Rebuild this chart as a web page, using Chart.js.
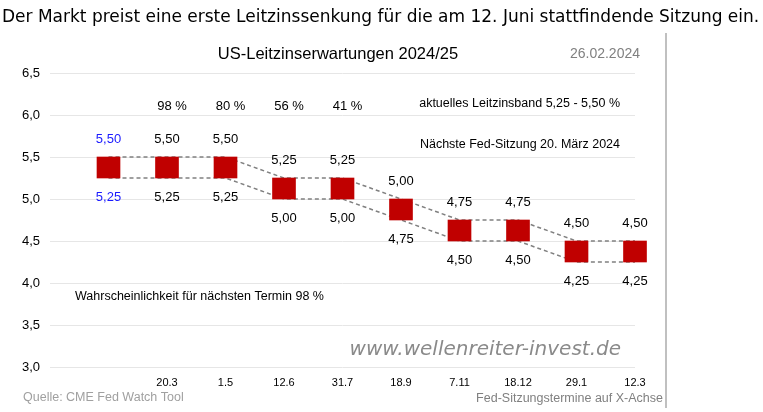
<!DOCTYPE html>
<html>
<head>
<meta charset="utf-8">
<script src="https://cdn.jsdelivr.net/npm/chart.js@4"></script>
<style>
  html, body { margin: 0; padding: 0; background: #fff; }
</style>
</head>
<body>
<canvas id="chart" width="763" height="412"></canvas>
<script>
// Fed-Termine (erste Spalte = heute, leere Spalte links = Achsenanfang)
const categories = ['', '', '20.3', '1.5', '12.6', '31.7', '18.9', '7.11', '18.12', '29.1', '12.3'];
const upper = [null, 5.50, 5.50, 5.50, 5.25, 5.25, 5.00, 4.75, 4.75, 4.50, 4.50];
const lower = [null, 5.25, 5.25, 5.25, 5.00, 5.00, 4.75, 4.50, 4.50, 4.25, 4.25];
const probs = [null, null, 98, 80, 56, 41, null, null, null, null, null];
const probLevel = 6.1;
const yTicks = [3.0, 3.5, 4.0, 4.5, 5.0, 5.5, 6.0, 6.5];

const fmt = v => v.toFixed(2).replace('.', ',');
const FONT = '"Liberation Sans", Arial, sans-serif';

const ranges = upper.map((u, i) => (u === null ? null : [lower[i], u]));

const textPlugin = {
    id: 'texts',
    afterDraw(chart) {
        const ctx = chart.ctx;
        const y = chart.scales.y;
        const bars = chart.getDatasetMeta(0).data;
        ctx.save();

        // Schlagzeile
        ctx.fillStyle = '#000';
        ctx.font = '17px "DejaVu Sans", Verdana, sans-serif';
        ctx.textAlign = 'left';
        ctx.textBaseline = 'middle';
        ctx.fillText('Der Markt preist eine erste Leitzinssenkung für die am 12. Juni stattfindende Sitzung ein.', 2, 18, 758);

        // Rahmenlinie rechts
        ctx.fillStyle = '#c0c0c0';
        ctx.fillRect(665, 33, 2, 375);

        // Titel + Datum
        ctx.fillStyle = '#000';
        ctx.font = '16.5px ' + FONT;
        ctx.textAlign = 'center';
        ctx.fillText('US-Leitzinserwartungen 2024/25', 338, 54);
        ctx.fillStyle = '#808080';
        ctx.font = '14px ' + FONT;
        ctx.textAlign = 'right';
        ctx.fillText('26.02.2024', 640, 54);

        // Werte an den Balken
        ctx.font = '13px ' + FONT;
        ctx.textAlign = 'center';
        bars.forEach((el, i) => {
            if (upper[i] === null) return;
            ctx.fillStyle = i === 1 ? '#1a1aff' : '#000';
            ctx.fillText(fmt(upper[i]), el.x, y.getPixelForValue(upper[i]) - 18);
            ctx.fillText(fmt(lower[i]), el.x, y.getPixelForValue(lower[i]) + 19);
        });

        // Wahrscheinlichkeiten
        ctx.fillStyle = '#000';
        probs.forEach((p, i) => {
            if (p === null) return;
            ctx.fillText(p + ' %', chart.scales.x.getPixelForValue(i) + 5, y.getPixelForValue(probLevel));
        });

        // Hinweise
        ctx.font = '12.5px ' + FONT;
        ctx.textAlign = 'right';
        ctx.fillText('aktuelles Leitzinsband 5,25 - 5,50 %', 620, 104);
        ctx.fillText('Nächste Fed-Sitzung 20. März 2024', 620, 145);
        ctx.textAlign = 'left';
        ctx.fillText('Wahrscheinlichkeit für nächsten Termin 98 %', 75, 297);

        // Wasserzeichen
        ctx.fillStyle = '#8a8a8a';
        ctx.font = 'italic 20px "DejaVu Sans", Verdana, sans-serif';
        ctx.textAlign = 'right';
        ctx.fillText('www.wellenreiter-invest.de', 621, 350);

        // Fußzeilen
        ctx.fillStyle = '#a0a0a0';
        ctx.font = '12.5px ' + FONT;
        ctx.textAlign = 'left';
        ctx.fillText('Quelle: CME Fed Watch Tool', 23, 398);
        ctx.fillStyle = '#808080';
        ctx.textAlign = 'right';
        ctx.fillText('Fed-Sitzungstermine auf X-Achse', 663, 399);

        ctx.restore();
    }
};

const ctx = document.querySelector('#chart').getContext('2d');

new Chart(ctx, {
    type: 'bar',
    data: {
        labels: categories,
        datasets: [
            {
                type: 'bar',
                data: ranges,
                backgroundColor: '#c00000',
                barThickness: 23,
                clip: false,
                order: 1
            },
            {
                type: 'line',
                data: upper,
                borderColor: '#808080',
                borderDash: [4, 3],
                borderWidth: 1.5,
                pointRadius: 0,
                fill: false,
                order: 2
            },
            {
                type: 'line',
                data: lower,
                borderColor: '#808080',
                borderDash: [4, 3],
                borderWidth: 1.5,
                pointRadius: 0,
                fill: false,
                order: 2
            }
        ]
    },
    options: {
        responsive: false,
        animation: false,
        layout: { padding: { top: 73, right: 128, bottom: 0, left: 0 } },
        scales: {
            x: {
                offset: false,
                grid: { display: false, drawTicks: false },
                border: { display: false },
                ticks: {
                    color: '#000',
                    font: { family: FONT, size: 11 },
                    padding: 9,
                    autoSkip: false,
                    maxRotation: 0
                },
                afterFit: s => { s.height = 45; }
            },
            y: {
                min: 3,
                max: 6.5,
                afterBuildTicks: s => { s.ticks = yTicks.map(v => ({ value: v })); },
                ticks: {
                    color: '#000',
                    font: { family: FONT, size: 13 },
                    padding: 10,
                    callback: v => v.toFixed(1).replace('.', ',')
                },
                grid: { color: '#e6e6e6', drawTicks: false },
                border: { display: false },
                afterFit: s => { s.width = 50; }
            }
        },
        plugins: {
            legend: { display: false },
            tooltip: { enabled: false }
        }
    },
    plugins: [textPlugin]
});
</script>
</body>
</html>
